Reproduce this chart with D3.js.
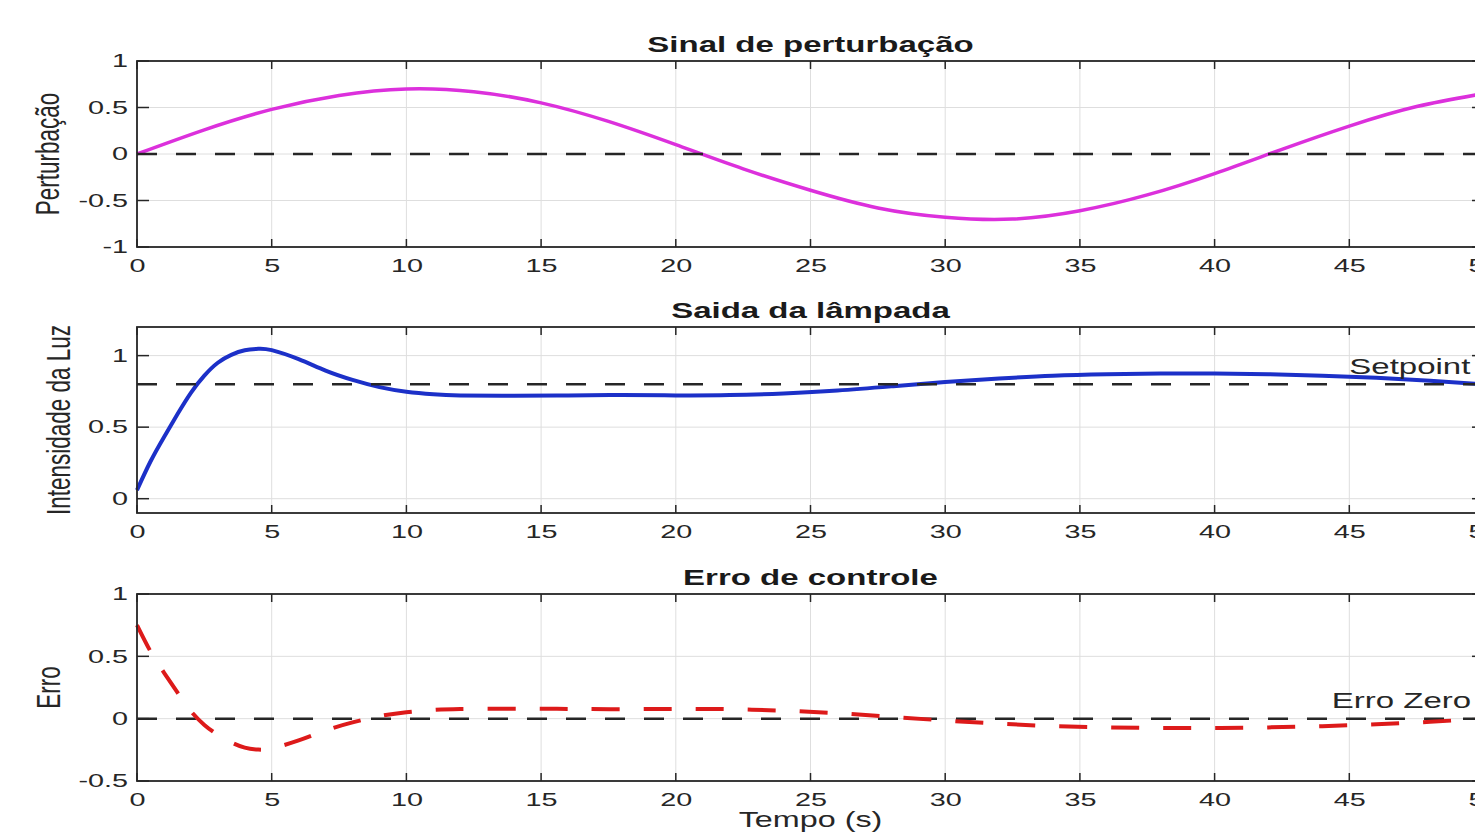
<!DOCTYPE html>
<html>
<head>
<meta charset="utf-8">
<script src="https://cdn.jsdelivr.net/npm/d3@7"></script>
<style>
    body { margin: 0; background: #fff; }
    svg { display: block; }
    text { font-family: "Liberation Sans", Arial, sans-serif; }
</style>
</head>
<body>
<svg id="main-svg"></svg>
<script>
// dados
const ticksX = [0, 5, 10, 15, 20, 25, 30, 35, 40, 45, 50];

const tempoPert = [0, 2.5, 5, 7.5, 10, 12.5, 15, 17.5, 20, 22.5, 25, 27.5, 30, 32.5, 35, 37.5, 40, 42.5, 45, 47.5, 50];
const perturbacao = [0, 0.26, 0.48, 0.63, 0.70, 0.67, 0.55, 0.35, 0.10, -0.16, -0.39, -0.58, -0.68, -0.70, -0.61, -0.44, -0.21, 0.05, 0.30, 0.51, 0.65];

const tempoLuz = [0, 0.5, 1, 1.5, 2, 2.5, 3, 3.5, 4, 4.5, 5, 6, 7, 8, 9, 10, 11, 12, 14, 16, 18, 20, 22, 24, 26, 28, 30, 32, 34, 36, 38, 40, 42, 44, 46, 48, 50];
const intensidade = [0.06, 0.26, 0.43, 0.59, 0.74, 0.86, 0.95, 1.005, 1.037, 1.048, 1.038, 0.975, 0.895, 0.83, 0.78, 0.748, 0.73, 0.722, 0.72, 0.722, 0.724, 0.722, 0.724, 0.736, 0.756, 0.785, 0.815, 0.84, 0.86, 0.87, 0.875, 0.875, 0.87, 0.86, 0.845, 0.825, 0.80];

const tempoErro = [0, 0.5, 1, 1.5, 2, 2.5, 3, 3.5, 4, 4.5, 5, 6, 7, 8, 9, 10, 11, 12, 14, 16, 18, 20, 22, 24, 26, 28, 30, 32, 34, 36, 38, 40, 42, 44, 46, 48, 50];
const erro = [0.75, 0.54, 0.37, 0.21, 0.06, -0.05, -0.13, -0.19, -0.232, -0.248, -0.238, -0.175, -0.095, -0.03, 0.02, 0.052, 0.07, 0.078, 0.08, 0.078, 0.076, 0.078, 0.076, 0.064, 0.044, 0.015, -0.015, -0.04, -0.06, -0.07, -0.075, -0.075, -0.07, -0.06, -0.045, -0.025, 0.0];

const setpoint = 0.8;
const erroZero = 0;

const ticksPert = [-1, -0.5, 0, 0.5, 1];
const ticksLuz = [0, 0.5, 1];
const ticksErro = [-0.5, 0, 0.5, 1];

const titulos = ["Sinal de perturbação", "Saida da lâmpada", "Erro de controle"];
const rotulosY = ["Perturbação", "Intensidade da Luz", "Erro"];
const rotuloX = "Tempo (s)";

// o grafico original esta esticado na horizontal
const ESTICA = 1.5;
const ESTICA_TICK = 1.6;

const svg = d3.select("#main-svg").attr("width", 1475).attr("height", 835);
const esquerda = 137, direita = 1484;

const escalaX = d3.scaleLinear().domain([0, 50]).range([esquerda, direita]);

const paineis = [
    { topo: 61, base: 247, dominio: [-1, 1], ticks: ticksPert, rotX: 59,
      series: [{ t: tempoPert, v: perturbacao, cor: "#dc30dc", largura: 3.5, traco: null }],
      referencia: 0, refDepois: true },
    { topo: 327, base: 513, dominio: [-0.1, 1.2], ticks: ticksLuz, rotX: 70,
      series: [{ t: tempoLuz, v: intensidade, cor: "#1c30c8", largura: 4, traco: null }],
      referencia: setpoint, refDepois: true,
      anotacao: { texto: "Setpoint", t: 45, v: setpoint, dy: -10 } },
    { topo: 594, base: 781, dominio: [-0.5, 1], ticks: ticksErro, rotX: 60,
      series: [{ t: tempoErro, v: erro, cor: "#dd1a1a", largura: 4, traco: "28,24" }],
      referencia: erroZero, refDepois: false,
      anotacao: { texto: "Erro Zero", t: 44.35, v: erroZero, dy: -11 } }
];

function desenharPainel(p, i) {
    const g = svg.append("g");
    const escalaY = d3.scaleLinear().domain(p.dominio).range([p.base, p.topo]);

    // grade
    g.append("g").selectAll("line")
        .data(ticksX)
        .join("line")
        .attr("x1", d => escalaX(d)).attr("x2", d => escalaX(d))
        .attr("y1", p.topo).attr("y2", p.base)
        .attr("stroke", "#dedede").attr("stroke-width", 1);
    g.append("g").selectAll("line")
        .data(p.ticks)
        .join("line")
        .attr("x1", esquerda).attr("x2", direita)
        .attr("y1", d => escalaY(d)).attr("y2", d => escalaY(d))
        .attr("stroke", "#dedede").attr("stroke-width", 1);

    const linha = d3.line()
        .x(d => escalaX(d[0]))
        .y(d => escalaY(d[1]))
        .curve(d3.curveNatural);

    const desenhaRef = () => {
        g.append("line")
            .attr("x1", escalaX(0)).attr("x2", escalaX(50))
            .attr("y1", escalaY(p.referencia)).attr("y2", escalaY(p.referencia))
            .attr("stroke", "#262626")
            .attr("stroke-width", 2.5)
            .attr("stroke-dasharray", "20,19");
    };

    if (!p.refDepois) desenhaRef();
    p.series.forEach(s => {
        g.append("path")
            .datum(s.t.map((t, k) => [t, s.v[k]]))
            .attr("d", linha)
            .attr("fill", "none")
            .attr("stroke", s.cor)
            .attr("stroke-width", s.largura)
            .attr("stroke-linejoin", "round")
            .attr("stroke-dasharray", s.traco);
    });
    if (p.refDepois) desenhaRef();

    // caixa
    g.append("rect")
        .attr("x", esquerda).attr("y", p.topo)
        .attr("width", direita - esquerda).attr("height", p.base - p.topo)
        .attr("fill", "none").attr("stroke", "#262626").attr("stroke-width", 1.8);

    // marcas para dentro
    const marcas = g.append("g").attr("stroke", "#262626").attr("stroke-width", 1.5);
    ticksX.forEach(d => {
        marcas.append("line").attr("x1", escalaX(d)).attr("x2", escalaX(d)).attr("y1", p.topo).attr("y2", p.topo + 8);
        marcas.append("line").attr("x1", escalaX(d)).attr("x2", escalaX(d)).attr("y1", p.base).attr("y2", p.base - 8);
    });
    p.ticks.forEach(d => {
        marcas.append("line").attr("x1", esquerda).attr("x2", esquerda + 12).attr("y1", escalaY(d)).attr("y2", escalaY(d));
        marcas.append("line").attr("x1", direita).attr("x2", direita - 12).attr("y1", escalaY(d)).attr("y2", escalaY(d));
    });

    // eixos (so os rotulos)
    const eixoX = d3.axisBottom(escalaX).tickValues(ticksX).tickSize(0).tickPadding(12).tickFormat(d => String(d));
    const gx = g.append("g").attr("transform", `translate(0, ${p.base})`).call(eixoX);
    gx.select(".domain").remove();
    gx.selectAll("text")
        .attr("font-family", "Liberation Sans, Arial, sans-serif")
        .attr("font-size", 18)
        .attr("fill", "#262626")
        .attr("transform", `scale(${ESTICA_TICK},1)`);

    const eixoY = d3.axisLeft(escalaY).tickValues(p.ticks).tickSize(0).tickPadding(9).tickFormat(d => String(d));
    const gy = g.append("g").attr("transform", `translate(${esquerda}, 0)`).call(eixoY);
    gy.select(".domain").remove();
    gy.selectAll("text")
        .attr("font-family", "Liberation Sans, Arial, sans-serif")
        .attr("font-size", 18)
        .attr("fill", "#262626")
        .attr("x", -9 / ESTICA_TICK)
        .attr("transform", `scale(${ESTICA_TICK},1)`);

    // titulo
    g.append("text")
        .attr("transform", `translate(${(esquerda + direita) / 2}, ${p.topo - 9}) scale(${ESTICA},1)`)
        .attr("text-anchor", "middle")
        .attr("font-size", 22)
        .attr("font-weight", "bold")
        .attr("fill", "#1a1a1a")
        .text(titulos[i]);

    // rotulo y
    g.append("text")
        .attr("transform", `translate(${p.rotX}, ${(p.topo + p.base) / 2}) scale(${ESTICA},1) rotate(-90)`)
        .attr("text-anchor", "middle")
        .attr("font-size", 22.5)
        .attr("fill", "#262626")
        .text(rotulosY[i]);

    if (p.anotacao) {
        const a = p.anotacao;
        g.append("text")
            .attr("transform", `translate(${escalaX(a.t)}, ${escalaY(a.v) + a.dy}) scale(${ESTICA},1)`)
            .attr("font-size", 22)
            .attr("fill", "#262626")
            .text(a.texto);
    }
}

paineis.forEach((p, i) => desenharPainel(p, i));

svg.append("text")
    .attr("transform", `translate(${(esquerda + direita) / 2}, 827) scale(1.47,1)`)
    .attr("text-anchor", "middle")
    .attr("font-size", 22)
    .attr("fill", "#262626")
    .text(rotuloX);
</script>
</body>
</html>
